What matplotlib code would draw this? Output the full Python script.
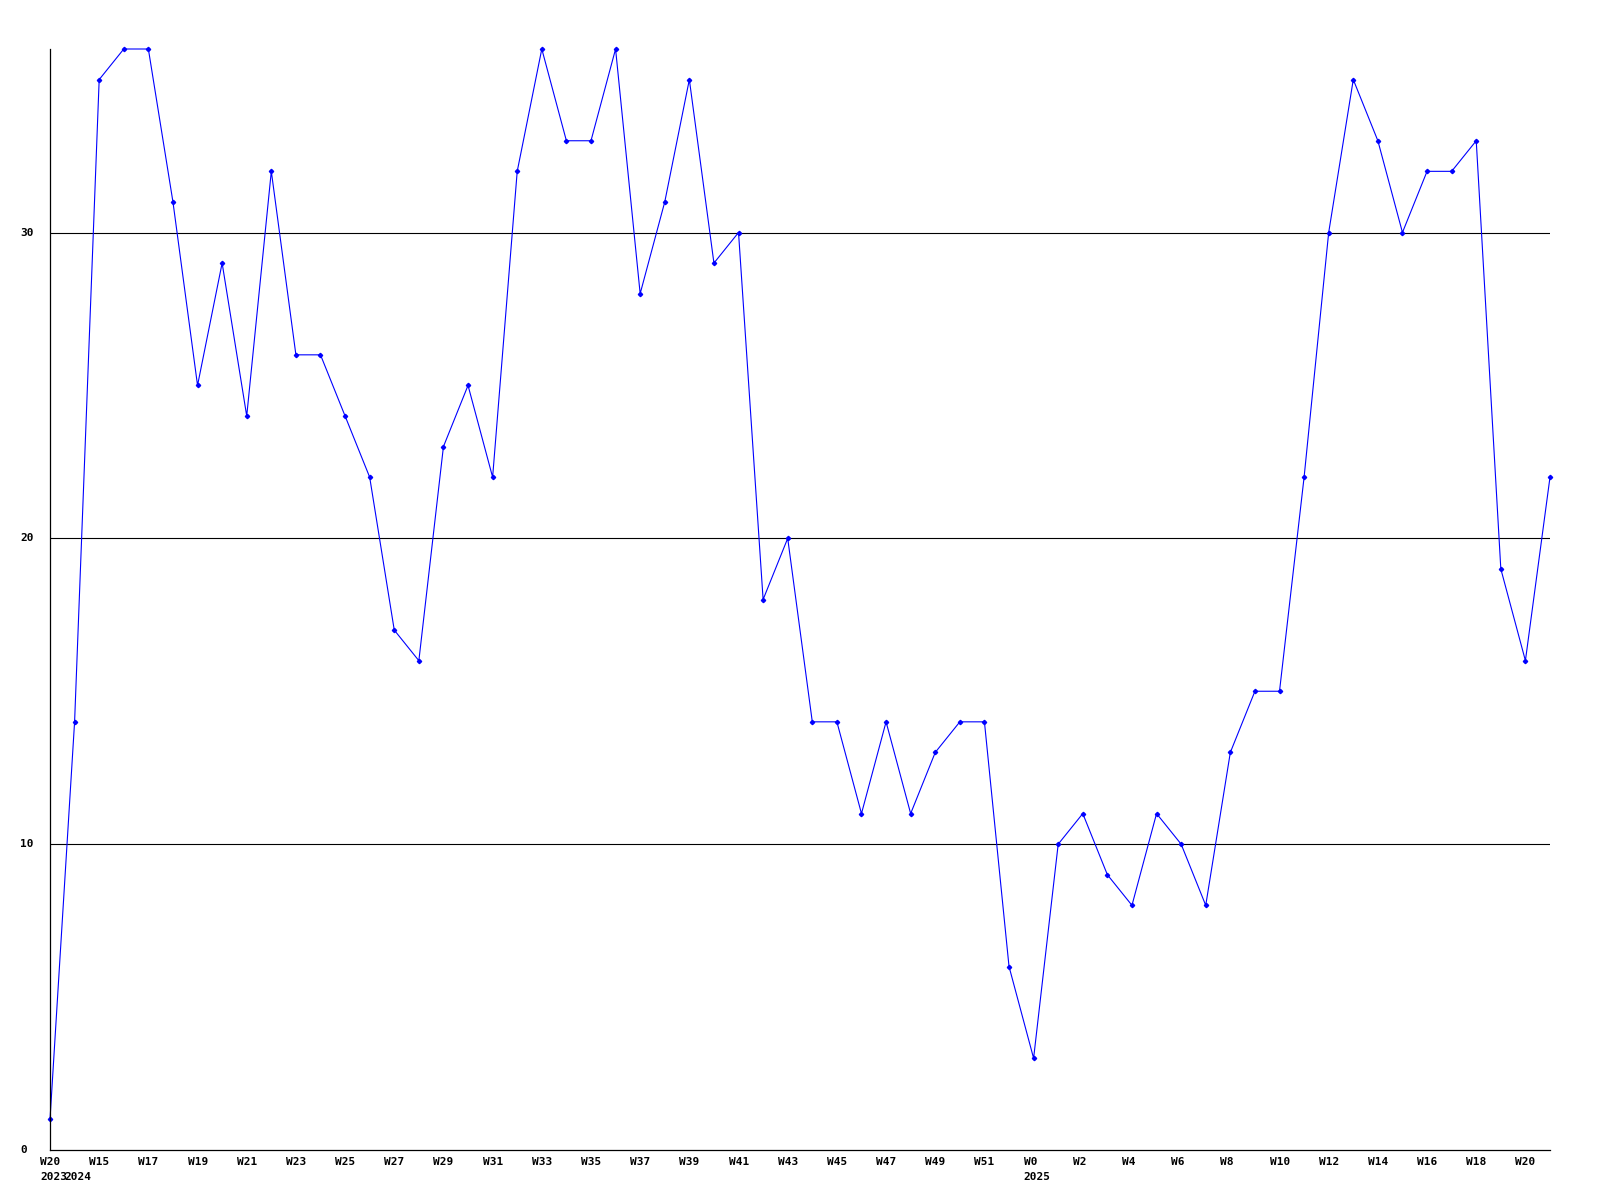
import matplotlib
matplotlib.use('Agg')
import matplotlib.pyplot as plt
import matplotlib.transforms as mtransforms

# weekly counts, one point per week (first point is W20 of 2023)
weeks = [20, 14, 15, 16, 17, 18, 19, 20, 21, 22, 23, 24, 25, 26, 27, 28, 29, 30, 31, 32,
         33, 34, 35, 36, 37, 38, 39, 40, 41, 42, 43, 44, 45, 46, 47, 48, 49, 50, 51, 52,
         0, 1, 2, 3, 4, 5, 6, 7, 8, 9, 10, 11, 12, 13, 14, 15, 16, 17, 18, 19, 20, 21]
values = [1, 14, 35, 36, 36, 31, 25, 29, 24, 32, 26, 26, 24, 22, 17, 16, 23, 25, 22, 32,
          36, 33, 33, 36, 28, 31, 35, 29, 30, 18, 20, 14, 14, 11, 14, 11, 13, 14, 14, 6,
          3, 10, 11, 9, 8, 11, 10, 8, 13, 15, 15, 22, 30, 35, 33, 30, 32, 32, 33, 19, 16, 22]
year_marks = {0: '2023', 1: '2024', 40: '2025'}
y_grid = [10, 20, 30]

fig = plt.figure(figsize=(16, 12), dpi=100)
ax = fig.add_axes([50/1600, 1 - 1150/1200, 1500/1600, 1101/1200])

x = list(range(len(values)))
ax.plot(x, values, color='#0000ff', lw=0.8, marker='D', ms=2.2, mec='#0000ff', mfc='#0000ff',
        clip_on=False)

for g in y_grid:
    ax.axhline(g, color='black', lw=0.8, zorder=0)

ax.set_xlim(0, len(values) - 1)
ax.set_ylim(0, 36)
for s in ['top', 'right']:
    ax.spines[s].set_visible(False)
for s in ['left', 'bottom']:
    ax.spines[s].set_linewidth(0.9)
ax.set_xticks([])
ax.set_yticks([])

font = dict(family='DejaVu Sans Mono', weight='bold', fontsize=8, color='black')

# x labels: every second week, left aligned a bit before the point
xtr = mtransforms.blended_transform_factory(ax.transData, ax.transAxes)
off1 = mtransforms.offset_copy(xtr, fig=fig, x=-10, y=-12, units='dots')
off2 = mtransforms.offset_copy(xtr, fig=fig, x=-10, y=-27, units='dots')
for i in range(0, len(values), 2):
    ax.text(i, 0, 'W%d' % weeks[i], transform=off1, ha='left', va='center', **font)
for i, yr in year_marks.items():
    ax.text(i, 0, yr, transform=off2, ha='left', va='center', **font)

# y labels
ytr = mtransforms.blended_transform_factory(fig.transFigure, ax.transData)
for v in [0] + y_grid:
    ax.text(20/1600, v, str(v), transform=ytr, ha='left', va='center', **font)

fig.savefig('out.png', dpi=100, facecolor='white')
